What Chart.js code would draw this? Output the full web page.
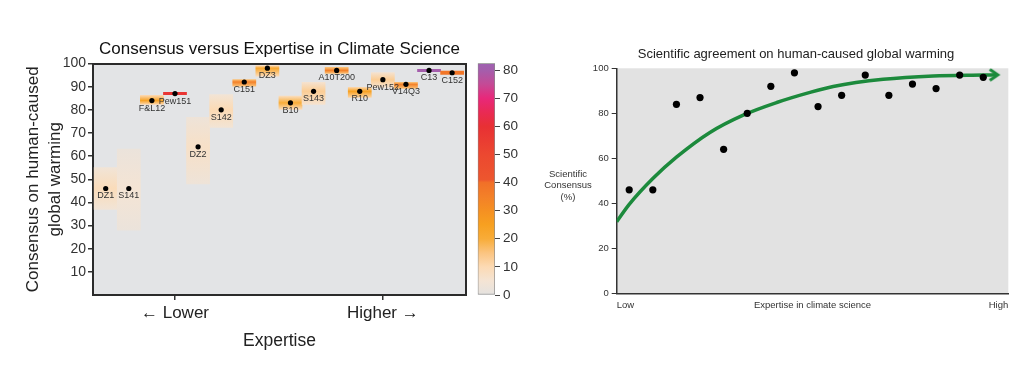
<!DOCTYPE html>
<html>
<head>
<meta charset="utf-8">
<script src="https://cdn.jsdelivr.net/npm/chart.js@4.4.1/dist/chart.umd.min.js"></script>
<style>
  html, body { margin: 0; padding: 0; background: #fff; width: 1024px; height: 388px; overflow: hidden; }
  canvas { position: absolute; top: 0; }
</style>
</head>
<body>
<canvas id="consensus-chart" width="470" height="388" style="left:0"></canvas>
<canvas id="density-bar" width="60" height="388" style="left:470px"></canvas>
<canvas id="agreement-chart" width="512" height="388" style="left:540px"></canvas>
<script>
// --- Datos ---
const studies = ['DZ1', 'S141', 'F&L12', 'Pew151', 'DZ2', 'S142', 'C151', 'DZ3',
                 'B10', 'S143', 'A10T200', 'R10', 'Pew152', 'V14Q3', 'C13', 'C152'];
const consensus = [46, 46, 84, 87, 64, 80, 92, 98, 83, 88, 97, 88, 93, 91, 97, 96];
const rangeLow  = [37, 28, 82.3, 86.5, 48, 72.4, 90.2, 94.5, 80.2, 82.3, 95.7, 85.3, 89.7, 89.2, 96.5, 95.3];
const rangeHigh = [55, 63, 86.2, 87.5, 76.7, 86.6, 93.1, 99.1, 85.9, 91.9, 98.3, 89.7, 96.1, 91.9, 97.5, 96.7];
const density   = [9, 5, 24, 58, 7, 10, 35, 22, 20, 13, 35, 25, 13, 35, 80, 38];
const densityMax = 82.4;

const expertiseTicks = [4, 13];
const expertiseLabels = ['← Lower', 'Higher →'];
const scaleEnds = ['Low', 'High'];

// curva verde (tendencia) del panel derecho
const curveX = [0.47, 1.0, 2.0, 3.0, 4.42, 5.83, 7.25, 8.66, 9.64, 11.76, 13.88, 16.0, 16.55];
const curveY = [31.8, 39.5, 51.0, 60.5, 71.5, 79.2, 84.8, 89.3, 91.9, 95.1, 96.6, 97.0, 97.1];

// --- Estilo ---
const FONT = '"Liberation Sans", Arial, Helvetica, sans-serif';
Chart.defaults.font.family = FONT;
Chart.defaults.color = '#222';
Chart.defaults.animation = false;

const cmap = [
  [0, [228, 226, 224]], [5, [244, 228, 212]], [10, [252, 218, 180]], [15, [251, 196, 128]],
  [20, [248, 172, 56]], [25, [247, 160, 32]], [30, [245, 144, 34]], [35, [243, 128, 40]],
  [40, [241, 112, 40]], [41, [237, 86, 46]], [50, [236, 72, 48]], [60, [232, 48, 52]],
  [65, [233, 42, 84]], [70, [232, 40, 122]], [75, [196, 74, 150]], [80, [164, 94, 172]],
  [82.4, [158, 98, 176]]
];

function colorFor(v) {
  if (v <= cmap[0][0]) return `rgb(${cmap[0][1].join(',')})`;
  for (let k = 1; k < cmap.length; k++) {
    const [v1, c1] = cmap[k];
    if (v <= v1) {
      const [v0, c0] = cmap[k - 1];
      const t = (v - v0) / (v1 - v0);
      const c = c0.map((a, j) => Math.round(a + (c1[j] - a) * t));
      return `rgb(${c.join(',')})`;
    }
  }
  return `rgb(${cmap[cmap.length - 1][1].join(',')})`;
}

// relleno de cada caja: más intenso alrededor del valor central
function boxFill(ctx) {
  const i = ctx.dataIndex;
  const peak = density[i];
  if (ctx.type !== 'data' || !ctx.chart.chartArea) return colorFor(peak);
  const y = ctx.chart.scales.y;
  const top = y.getPixelForValue(rangeHigh[i]);
  const bot = y.getPixelForValue(rangeLow[i]);
  if (!isFinite(top) || bot - top < 4) return colorFor(peak);
  const mid = Math.min(1, Math.max(0, (y.getPixelForValue(consensus[i]) - top) / (bot - top)));
  const g = ctx.chart.ctx.createLinearGradient(0, top, 0, bot);
  g.addColorStop(0, colorFor(peak * 0.45));
  g.addColorStop(mid, colorFor(peak));
  g.addColorStop(1, colorFor(peak * 0.45));
  return g;
}

const plotBackground = {
  id: 'plotBackground',
  beforeDraw(chart, args, opts) {
    const { ctx, chartArea: a } = chart;
    ctx.save();
    ctx.fillStyle = opts.color;
    ctx.fillRect(a.left, a.top, a.width, a.height);
    ctx.restore();
  }
};

const studyLabels = {
  id: 'studyLabels',
  afterDatasetsDraw(chart) {
    const meta = chart.getDatasetMeta(0);
    const { ctx } = chart;
    ctx.save();
    ctx.font = `9px ${FONT}`;
    ctx.fillStyle = '#333';
    ctx.textAlign = 'center';
    ctx.textBaseline = 'middle';
    meta.data.forEach((pt, i) => ctx.fillText(studies[i], pt.x, pt.y + 7.5));
    ctx.restore();
  }
};

const sideLabel = {
  id: 'sideLabel',
  afterDraw(chart, args, opts) {
    const { ctx } = chart;
    ctx.save();
    ctx.font = opts.font;
    ctx.fillStyle = opts.color;
    ctx.textAlign = 'center';
    ctx.textBaseline = 'middle';
    opts.lines.forEach((t, i) => ctx.fillText(t, opts.x, opts.y + i * opts.lineHeight));
    ctx.restore();
  }
};

const frameAxis = (position) => ({
  type: 'linear', position, display: true,
  grid: { display: false }, ticks: { display: false },
  border: { display: true, color: '#2b2b2b', width: 2 },
  afterFit: s => { if (position === 'top') s.height = 0; else s.width = 0; }
});

// --- Panel izquierdo ---
new Chart(document.getElementById('consensus-chart'), {
  type: 'bar',
  data: {
    datasets: [
      {
        type: 'line', label: 'Consenso',
        data: studies.map((s, i) => ({ x: i + 1, y: consensus[i] })),
        showLine: false, pointRadius: 2.6, pointBackgroundColor: '#000',
        pointBorderWidth: 0, order: 0
      },
      {
        type: 'bar', label: 'Rango',
        data: studies.map((s, i) => ({ x: i + 1, y: [rangeLow[i], rangeHigh[i]] })),
        backgroundColor: boxFill, borderWidth: 0,
        barPercentage: 1, categoryPercentage: 1, order: 1
      }
    ]
  },
  options: {
    responsive: false,
    layout: { padding: { left: 0, right: 2, top: 0, bottom: 0 } },
    plugins: {
      legend: { display: false },
      tooltip: { enabled: false },
      plotBackground: { color: '#e3e4e6' },
      title: {
        display: true, fullSize: false,
        text: 'Consensus versus Expertise in Climate Science',
        font: { size: 17, weight: 'normal' }, color: '#111',
        padding: { top: 39.6, bottom: 3.5 }
      }
    },
    scales: {
      x: {
        type: 'linear', min: 0.45, max: 16.6, offset: false,
        afterBuildTicks: s => { s.ticks = expertiseTicks.map(v => ({ value: v })); },
        afterFit: s => { s.height = 93; },
        grid: { display: true, drawOnChartArea: false, offset: false, tickLength: 5, color: '#333', lineWidth: 1.5 },
        border: { display: true, color: '#2b2b2b', width: 2 },
        ticks: {
          font: { size: 17 }, color: '#222', padding: 3, maxRotation: 0, autoSkip: false,
          callback: (v, i) => expertiseLabels[i]
        },
        title: {
          display: true, text: 'Expertise', font: { size: 17.5 }, color: '#222',
          padding: { top: 0, bottom: 36.5 }
        }
      },
      y: {
        min: 0, max: 100,
        afterFit: s => { s.width = 93; },
        grid: { drawOnChartArea: false, tickLength: 5, color: '#333', lineWidth: 1.5 },
        border: { display: true, color: '#2b2b2b', width: 2 },
        ticks: { stepSize: 10, font: { size: 14 }, color: '#333', padding: 2, callback: v => (v === 0 ? null : v) },
        title: {
          display: true, text: ['Consensus on human-caused', 'global warming'],
          font: { size: 17, lineHeight: 1.25 }, color: '#222',
          padding: { top: 23, bottom: 0 }
        }
      },
      x2: frameAxis('top'),
      y2: frameAxis('right')
    }
  },
  plugins: [plotBackground, studyLabels]
});

// --- Barra de color ---
new Chart(document.getElementById('density-bar'), {
  type: 'bar',
  data: {
    labels: [''],
    datasets: [{
      data: [[0, densityMax]],
      backgroundColor(ctx) {
        const chart = ctx.chart;
        if (!chart.chartArea) return '#ccc';
        const y = chart.scales.y;
        const g = chart.ctx.createLinearGradient(0, y.getPixelForValue(0), 0, y.getPixelForValue(densityMax));
        cmap.forEach(([v, c]) => g.addColorStop(v / densityMax, `rgb(${c.join(',')})`));
        return g;
      },
      borderColor: '#8a8a8a', borderWidth: 1, borderSkipped: false,
      barPercentage: 1, categoryPercentage: 1
    }]
  },
  options: {
    responsive: false,
    layout: { padding: { left: 7.7, right: 0, top: 63.3, bottom: 93 } },
    plugins: { legend: { display: false }, tooltip: { enabled: false } },
    scales: {
      x: { display: false },
      y: {
        position: 'right', min: 0, max: densityMax,
        afterFit: s => { s.width = 35; },
        grid: { drawOnChartArea: false, tickLength: 5, color: '#444' },
        border: { display: false },
        ticks: { stepSize: 10, includeBounds: false, font: { size: 13.5 }, color: '#333', padding: 3 }
      }
    }
  }
});

// --- Panel derecho ---
const arrowHead = document.createElement('canvas');
arrowHead.width = 20;
arrowHead.height = 20;
{
  const a = arrowHead.getContext('2d');
  a.strokeStyle = '#1c8a3c';
  a.lineWidth = 3;
  a.beginPath();
  a.moveTo(3.5, 4.5);
  a.lineTo(11.5, 10);
  a.lineTo(3.5, 15.5);
  a.stroke();
}
const lastCurve = curveX.length - 1;

new Chart(document.getElementById('agreement-chart'), {
  type: 'scatter',
  data: {
    datasets: [
      {
        label: 'Estudios',
        data: studies.map((s, i) => ({ x: i + 1, y: consensus[i] })),
        pointRadius: 3.6, pointBackgroundColor: '#000', pointBorderWidth: 0, order: 0
      },
      {
        type: 'line', label: 'Tendencia',
        data: curveX.map((x, i) => ({ x, y: curveY[i] })),
        showLine: true, fill: false,
        borderColor: '#1c8a3c', borderWidth: 3.5,
        cubicInterpolationMode: 'monotone',
        pointRadius: c => (c.dataIndex === lastCurve ? 1 : 0),
        pointHoverRadius: 0,
        pointStyle: c => (c.dataIndex === lastCurve ? arrowHead : 'circle'),
        order: 1
      }
    ]
  },
  options: {
    responsive: false,
    layout: { padding: { left: 43.7, right: 43.7, top: 0, bottom: 0 } },
    plugins: {
      legend: { display: false },
      tooltip: { enabled: false },
      plotBackground: { color: '#e2e2e2' },
      sideLabel: {
        lines: ['Scientific', 'Consensus', '(%)'],
        x: 28, y: 174, lineHeight: 11.5,
        font: `9.5px ${FONT}`, color: '#333'
      },
      title: {
        display: true,
        text: 'Scientific agreement on human-caused global warming',
        font: { size: 13, weight: 'normal' }, color: '#222',
        padding: { top: 46.2, bottom: 6.5 }
      }
    },
    scales: {
      x: {
        type: 'linear', min: 0.47, max: 17.06,
        afterBuildTicks: s => { s.ticks = [{ value: s.min }, { value: s.max }]; },
        afterFit: s => { s.height = 94.7; },
        grid: { display: false, drawTicks: false },
        border: { display: true, color: '#333', width: 1.5 },
        ticks: {
          align: 'inner', padding: 6, font: { size: 9.5 }, color: '#333',
          maxRotation: 0, autoSkip: false, callback: (v, i) => scaleEnds[i]
        },
        title: {
          display: true, text: 'Expertise in climate science',
          font: { size: 9.5 }, color: '#333', padding: { top: 0, bottom: 77.3 }
        }
      },
      y: {
        min: 0, max: 100,
        afterFit: s => { s.width = 33; },
        grid: { drawOnChartArea: false, tickLength: 5, color: '#333' },
        border: { display: true, color: '#333', width: 1.5 },
        ticks: { stepSize: 20, font: { size: 9.5 }, color: '#333', padding: 3 }
      }
    }
  },
  plugins: [plotBackground, sideLabel]
});
</script>
</body>
</html>
